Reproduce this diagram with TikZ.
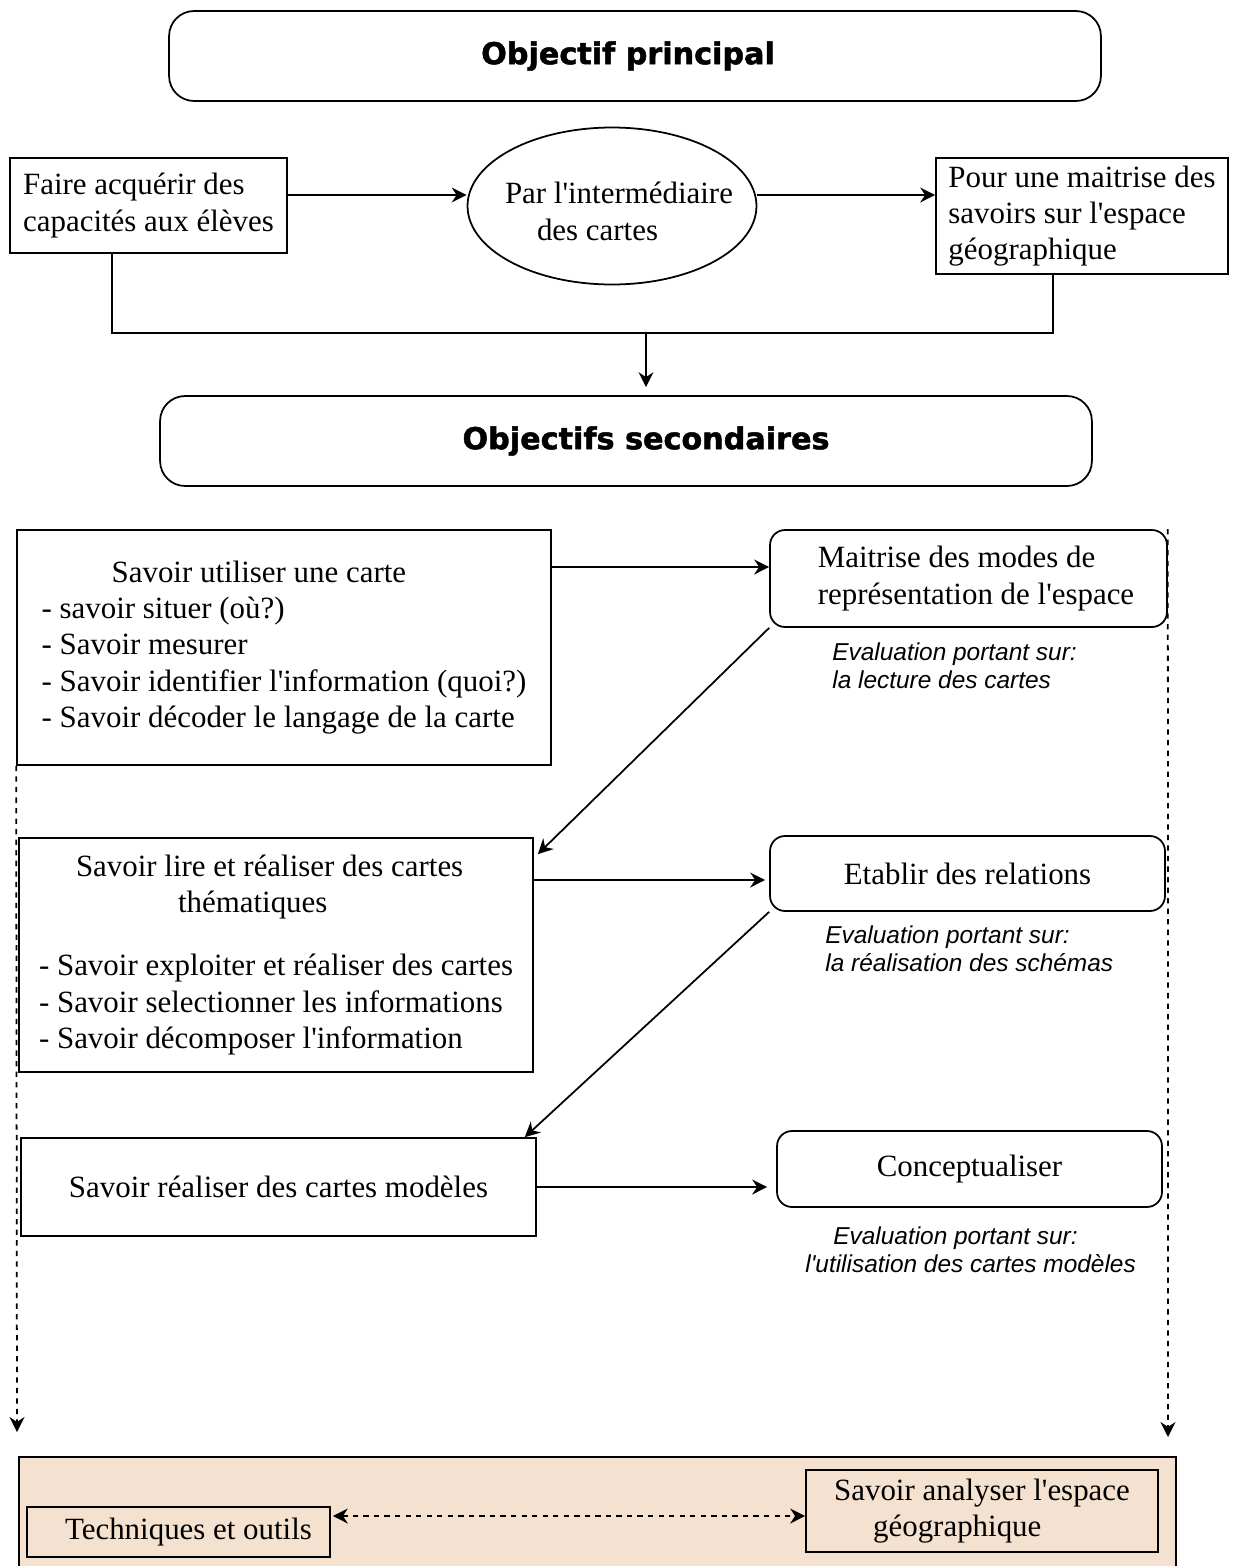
\documentclass[tikz,border=0pt]{standalone}
\usepackage{fontspec}
\setmainfont{Liberation Serif}[Ligatures=TeXOff]
\newfontfamily\headfont{DejaVu Sans}[BoldFeatures={FakeBold=1.6}]
\newfontfamily\evalfont{Liberation Sans}
\usepackage{tikz}
\usetikzlibrary{arrows.meta,calc,shapes.geometric}
\definecolor{panelc}{RGB}{245,225,207}

\tikzset{
    txt/.style={font=\fontsize{17.6}{20.7}\selectfont},
    box/.style={draw,line width=1pt,rectangle,inner sep=0pt,txt},
    rbox/.style={draw,line width=1pt,rounded corners=0.3cm,inner sep=0pt,txt},
    headbox/.style={draw,line width=1pt,rounded corners=0.5cm,minimum width=18.64cm,minimum height=1.8cm,font=\headfont\bfseries\fontsize{17.2}{20}\selectfont},
    evaltxt/.style={inner sep=0pt,align=left,font=\evalfont\itshape\fontsize{13.9}{15.9}\selectfont},
    arr/.style={-{Stealth[length=8.5pt,width=8.5pt]},line width=1pt},
    darr/.style={arr,dashed},
}

\begin{document}
\begin{tikzpicture}[x=0.02cm,y=-0.02cm]
    \useasboundingbox (0,0) rectangle (1235,1566);
    \pgfmathsetmacro{\jy}{333};

    \node[headbox] (princ) at (635,56) {Objectif principal\hspace*{0.28cm}};

    \node[box,minimum width=5.54cm,minimum height=1.9cm,align=left] (faire) at (148.5,205.5) {Faire acquérir des\\capacités aux élèves};
    \node[draw,ellipse,line width=1pt,minimum width=5.78cm,minimum height=3.14cm,inner xsep=-0.5cm,inner ysep=0.1cm,align=left,txt] (inter) at (612,206) {\rule{0pt}{0.64cm}\hspace*{0.28cm}Par l'intermédiaire\\\hspace*{0.92cm}des cartes};
    \node[box,minimum width=5.84cm,minimum height=2.32cm,align=left] (pour) at (1082,216) {Pour une maitrise des\\savoirs sur l'espace\\géographique};

    \draw[arr] ($(faire.east)+(0,-10.5)$) -- ($(inter.west)+(0,-11)$);
    \draw[arr] ($(inter.east)+(0,-11)$) -- ($(pour.west)+(0,-21)$);

    % regroupement vers les objectifs secondaires
    \coordinate (jl) at (112,\jy);
    \coordinate (jr) at (1053,\jy);
    \coordinate (jm) at (646,\jy);
    \draw[line width=1pt] (faire.south -| jl) -- (jl) -- (jr) -- (pour.south -| jr);

    \node[headbox] (second) at (626,441) {\hspace*{0.8cm}Objectifs secondaires};
    \draw[arr] (jm) -- ($(jm |- second.north)+(0,-8)$);

    % colonne de gauche
    \node[box,minimum width=10.68cm,minimum height=4.7cm,align=left] (utiliser) at (284,647.5) {\hspace*{1.4cm}Savoir utiliser une carte\\- savoir situer (où?)\\- Savoir mesurer\\- Savoir identifier l'information (quoi?)\\- Savoir décoder le langage de la carte};
    \node[box,minimum width=10.28cm,minimum height=4.68cm,align=left] (lire) at (276,955) {\hspace*{0.74cm}Savoir lire et réaliser des cartes\\\hspace*{2.78cm}thématiques\\[0.53cm]- Savoir exploiter et réaliser des cartes\\- Savoir selectionner les informations\\- Savoir décomposer l'information};
    \node[box,minimum width=10.3cm,minimum height=1.96cm] (realiser) at (278.5,1187) {Savoir réaliser des cartes modèles};

    % colonne de droite
    \node[rbox,minimum width=7.94cm,minimum height=1.94cm,align=left] (modes) at (968.5,578.5) {\hspace*{0.3cm}Maitrise des modes de\\\hspace*{0.3cm}représentation de l'espace};
    \node[evaltxt,anchor=west] (evalA) at (832,666) {Evaluation portant sur:\\la lecture des cartes};
    \node[rbox,minimum width=7.9cm,minimum height=1.5cm] (relations) at (967.5,873.5) {Etablir des relations};
    \node[evaltxt,anchor=west] (evalB) at (825,949) {Evaluation portant sur:\\la réalisation des schémas};
    \node[rbox,minimum width=7.7cm,minimum height=1.52cm] (concept) at (969.5,1169) {Conceptualiser};
    \node[evaltxt,anchor=west] (evalC) at (805,1250) {\hspace*{0.56cm}Evaluation portant sur:\\l'utilisation des cartes modèles};

    \draw[arr] ($(utiliser.east)+(0,-80.5)$) -- ($(modes.west)+(0,-11.5)$);
    \draw[arr] (modes.south west) -- ($(lire.north east)+(4,17)$);
    \draw[arr] ($(lire.east)+(0,-75)$) -- ($(relations.west)+(-4,6.5)$);
    \draw[arr] (relations.south west) -- ($(realiser.north east)+(-12,0)$);
    \draw[arr] (realiser.east) -- ($(concept.west)+(-9,18)$);

    % vers le bas
    \coordinate (endL) at (17,1432);
    \coordinate (endR) at (1168,1437);
    \draw[darr] (utiliser.south west) -- (endL);
    \draw[darr] (modes.north east) -- (endR);

    \draw[line width=1pt,fill=panelc] (19,1457) rectangle (1176,1620);
    \node[box,minimum width=6.06cm,minimum height=1cm] (techniques) at (178.5,1532) {\hspace*{0.4cm}Techniques et outils};
    \node[box,minimum width=7.04cm,minimum height=1.64cm,align=left] (analyser) at (982,1511) {Savoir analyser l'espace\\\hspace*{0.78cm}géographique};
    \draw[darr,{Stealth[length=8.5pt,width=8.5pt]}-{Stealth[length=8.5pt,width=8.5pt]}] ($(techniques.east)+(2,-16)$) -- ($(analyser.west)+(0,5)$);

\end{tikzpicture}
\end{document}
